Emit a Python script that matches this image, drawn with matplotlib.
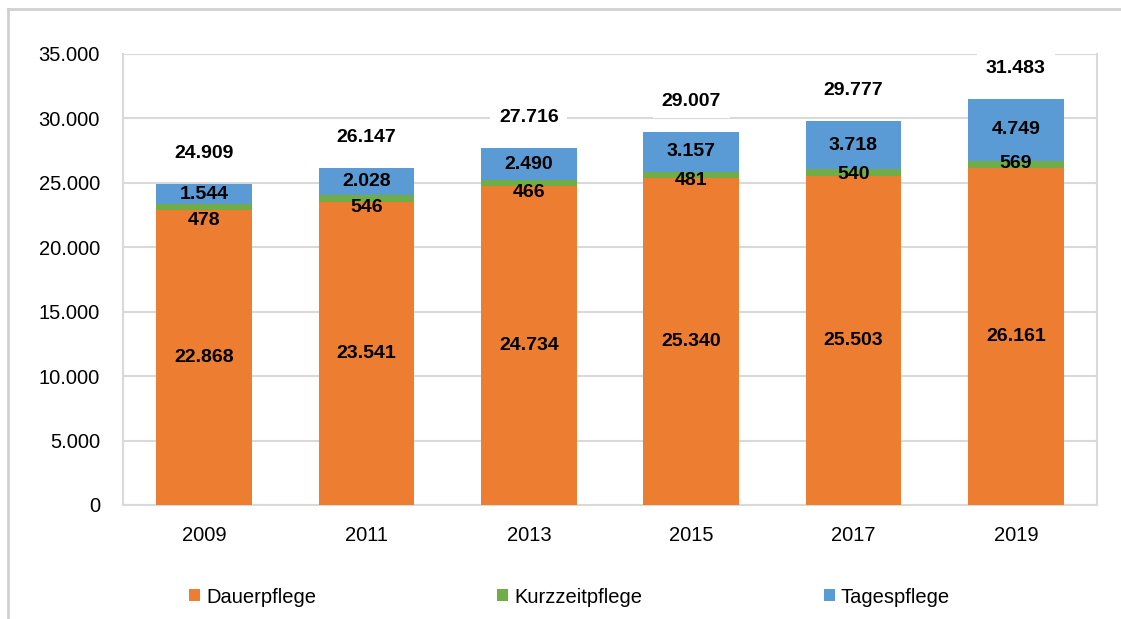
import matplotlib.pyplot as plt
from matplotlib.lines import Line2D
import numpy as np

# Daten (Anzahl Plätze)
years = ["2009", "2011", "2013", "2015", "2017", "2019"]
dauerpflege = [22868, 23541, 24734, 25340, 25503, 26161]
kurzzeitpflege = [478, 546, 466, 481, 540, 569]
tagespflege = [1544, 2028, 2490, 3157, 3718, 4749]
totals = [24909, 26147, 27716, 29007, 29777, 31483]

# layout: Verschiebung der Kurzzeitpflege-Labels (pt, nach unten negativ)
kurz_nudge = [-9.5, -7, -7, -4, -1.5, 0.5]

c_dauer = "#ED7D31"
c_kurz = "#70AD47"
c_tages = "#5B9BD5"
grid_c = "#D9D9D9"

narrow = ["Liberation Sans", "DejaVu Sans"]
boldf = ["Liberation Sans", "DejaVu Sans"]


def fmt(v):
    return f"{v:,}".replace(",", ".")


fig = plt.figure(figsize=(11.21, 6.19), dpi=100)
ax = fig.add_axes([0.1097, 0.1842, 0.8689, 0.7286])

x = np.arange(len(years))
w = 0.59
d = np.array(dauerpflege)
k = np.array(kurzzeitpflege)
t = np.array(tagespflege)

ax.bar(x, d, w, color=c_dauer, label="Dauerpflege", zorder=3)
ax.bar(x, k, w, bottom=d, color=c_kurz, label="Kurzzeitpflege", zorder=3)
ax.bar(x, t, w, bottom=d + k, color=c_tages, label="Tagespflege", zorder=3)

ax.set_xlim(-0.5, len(years) - 0.5)
ax.set_ylim(0, 35000)
ax.set_yticks(np.arange(0, 35001, 5000))
ax.set_yticklabels([fmt(v) for v in range(0, 35001, 5000)], family=narrow, fontsize=14.5)
ax.set_xticks(x)
ax.set_xticklabels(years, family=narrow, fontsize=14.5)
ax.tick_params(axis="y", length=0, pad=16.5)
ax.tick_params(axis="x", length=0, pad=15)
ax.yaxis.grid(True, color=grid_c, linewidth=1.5, zorder=0)
ax.set_axisbelow(True)
for s in ["left", "right", "bottom"]:
    ax.spines[s].set_color(grid_c)
    ax.spines[s].set_linewidth(1.5)
ax.spines["top"].set_visible(False)

lab = dict(ha="center", va="center", fontsize=14, fontweight="bold", family=boldf, zorder=5)
for i in range(len(years)):
    ax.text(x[i], d[i] / 2, fmt(dauerpflege[i]), **lab)
    ax.annotate(fmt(kurzzeitpflege[i]), (x[i], d[i] + k[i] / 2), xytext=(0, kurz_nudge[i]),
                textcoords="offset points", **lab)
    ax.text(x[i], d[i] + k[i] + t[i] / 2, fmt(tagespflege[i]), **lab)
    ax.annotate(fmt(totals[i]), (x[i], d[i] + k[i] + t[i]), xytext=(0, 22),
                textcoords="offset points",
                bbox=dict(boxstyle="square,pad=0.45", fc="white", ec="none"), **lab)

fig.legend(loc="center", bbox_to_anchor=(0.508, 0.0355), ncol=3, frameon=False,
           prop={"family": narrow, "size": 14.5}, handlelength=0.55, handleheight=0.55,
           handletextpad=0.3, columnspacing=9.0)

# Rahmen links und oben
fig.add_artist(Line2D([0.0071, 0.0071], [0, 0.986], transform=fig.transFigure, color="#D0D0D0", lw=2))
fig.add_artist(Line2D([0.0071, 1], [0.986, 0.986], transform=fig.transFigure, color="#D0D0D0", lw=2))

fig.savefig("out.png", dpi=100)
